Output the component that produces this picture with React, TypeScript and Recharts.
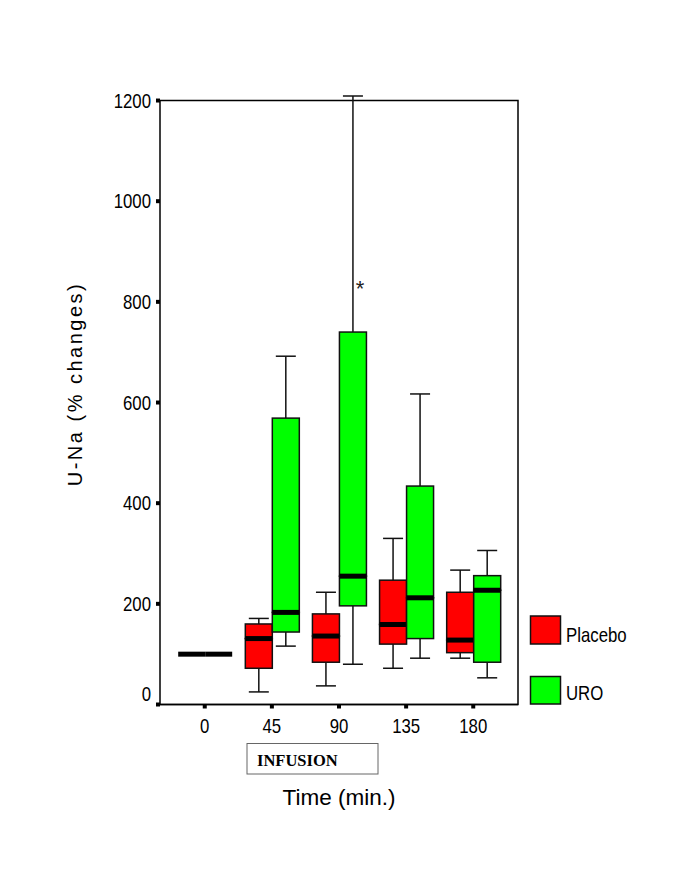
import React from "react";
import {
  ComposedChart,
  Bar,
  XAxis,
  YAxis,
  ReferenceDot,
  ReferenceArea,
  Customized,
} from "recharts";

// time points (min.)
const times = [0, 45, 90, 135, 180];
const xDomain = [-30, 210];
const yTicks = [0, 200, 400, 600, 800, 1000, 1200];

// Placebo box plot values
const placeboLow = [100, 25, 37, 72, 92];
const placeboQ1 = [100, 72, 84, 120, 103];
const placeboMedian = [100, 131, 136, 159, 128];
const placeboQ3 = [100, 160, 180, 247, 223];
const placeboHigh = [100, 171, 223, 330, 267];

// URO box plot values
const uroLow = [100, 116, 80, 92, 53];
const uroQ1 = [100, 144, 196, 131, 84];
const uroMedian = [100, 183, 255, 212, 227];
const uroQ3 = [100, 569, 740, 434, 256];
const uroHigh = [100, 692, 1209, 617, 306];

// significance mark
const starTime = 90;
const starValue = 835;

const data = times.map((t, i) => ({
  time: t,
  pBase: placeboLow[i],
  pLowW: placeboQ1[i] - placeboLow[i],
  pBoxLo: placeboMedian[i] - placeboQ1[i],
  pBoxHi: placeboQ3[i] - placeboMedian[i],
  pHighW: placeboHigh[i] - placeboQ3[i],
  uBase: uroLow[i],
  uLowW: uroQ1[i] - uroLow[i],
  uBoxLo: uroMedian[i] - uroQ1[i],
  uBoxHi: uroQ3[i] - uroMedian[i],
  uHighW: uroHigh[i] - uroQ3[i],
}));

const RED = "#ff0000";
const GREEN = "#00ff00";
const SANS = "'Liberation Sans', Arial, sans-serif";
const SQUEEZE = 0.84; // the figure's labels are set in a narrow face

const Empty = () => null;

const LowWhisker = (props: any) => {
  const { x, y, width, height } = props;
  if (!height || height <= 0.5) return null;
  const cx = x + width / 2;
  return (
    <g stroke="#111" strokeWidth={1.5}>
      <line x1={cx} y1={y} x2={cx} y2={y + height} />
      <line x1={cx - 10} y1={y + height} x2={cx + 10} y2={y + height} />
    </g>
  );
};

const HighWhisker = (props: any) => {
  const { x, y, width, height } = props;
  if (!height || height <= 0.5) return null;
  const cx = x + width / 2;
  return (
    <g stroke="#111" strokeWidth={1.5}>
      <line x1={cx} y1={y} x2={cx} y2={y + height} />
      <line x1={cx - 10} y1={y} x2={cx + 10} y2={y} />
    </g>
  );
};

const makeBox = (fill: string, withMedian: boolean) => (props: any) => {
  const { x, y, width, height } = props;
  return (
    <g>
      {height > 0 && (
        <rect x={x} y={y} width={width} height={height} fill={fill} stroke="#111" strokeWidth={1.5} />
      )}
      {withMedian && (
        <line x1={x} y1={y + height} x2={x + width} y2={y + height} stroke="#000" strokeWidth={5} />
      )}
    </g>
  );
};

const NarrowText = ({ x, y, anchor, size, children }: any) => (
  <text
    transform={`translate(${x},${y}) scale(${SQUEEZE},1)`}
    textAnchor={anchor}
    fontFamily={SANS}
    fontSize={size}
    fill="#000"
  >
    {children}
  </text>
);

const YTick = (props: any) => {
  const { x, y, payload } = props;
  const shift = payload.value === 0 ? -11 : 0;
  return (
    <NarrowText x={x - 3} y={y + shift + 7} anchor="end" size={20}>
      {payload.value}
    </NarrowText>
  );
};

const XTick = (props: any) => {
  const { x, y, payload } = props;
  return (
    <NarrowText x={x} y={y + 22} anchor="middle" size={20}>
      {payload.value}
    </NarrowText>
  );
};

const Extras = () => (
  <g>
    <text
      transform="translate(82,384) rotate(-90)"
      textAnchor="middle"
      fontFamily={SANS}
      fontSize={20}
      letterSpacing={2.5}
      fill="#000"
    >
      U-Na (% changes)
    </text>
    <rect x={247} y={743.5} width={131} height={30.5} fill="#fff" stroke="#666" strokeWidth={1} />
    <text x={257} y={765.5} fontFamily="'Liberation Serif', 'Times New Roman', serif" fontWeight="bold" fontSize={16.5} fill="#000">
      INFUSION
    </text>
    <text x={339} y={805} textAnchor="middle" fontFamily={SANS} fontSize={22.5} fill="#000">
      Time (min.)
    </text>
    <rect x={530.5} y={616} width={30} height={28} fill={RED} stroke="#111" strokeWidth={1.5} />
    <NarrowText x={566} y={641.5} anchor="start" size={20}>
      Placebo
    </NarrowText>
    <rect x={530.5} y={676.5} width={30} height={27.5} fill={GREEN} stroke="#111" strokeWidth={1.5} />
    <NarrowText x={566} y={699.5} anchor="start" size={20}>
      URO
    </NarrowText>
  </g>
);

export default function App() {
  return (
    <div style={{ position: "absolute", left: 0, top: 0, width: 685, height: 886, background: "#fff" }}>
      <ComposedChart
        width={685}
        height={886}
        data={data}
        margin={{ top: 96, right: 167, left: 100, bottom: 151.5 }}
        barGap={0}
      >
        <XAxis
          dataKey="time"
          type="number"
          domain={xDomain}
          ticks={times}
          interval={0}
          axisLine={{ stroke: "#000", strokeWidth: 1.5 }}
          tickLine={{ stroke: "#000", strokeWidth: 4 }}
          tickSize={4}
          tick={<XTick />}
          height={30}
        />
        <YAxis
          domain={[0, (dataMax: number) => Math.max(1200, dataMax)]}
          ticks={yTicks}
          interval={0}
          axisLine={false}
          tickLine={{ stroke: "#000", strokeWidth: 4 }}
          tickSize={4}
          tick={<YTick />}
          width={60}
        />
        {/* plot frame: from 0 to the top tick, full plot width */}
        <ReferenceArea y1={0} y2={1200} fill="none" stroke="#000" strokeWidth={1.5} ifOverflow="visible" />

        <Bar dataKey="pBase" stackId="p" barSize={27} shape={<Empty />} isAnimationActive={false} />
        <Bar dataKey="pLowW" stackId="p" barSize={27} shape={LowWhisker} isAnimationActive={false} />
        <Bar dataKey="pBoxLo" stackId="p" barSize={27} shape={makeBox(RED, false)} isAnimationActive={false} />
        <Bar dataKey="pBoxHi" stackId="p" barSize={27} shape={makeBox(RED, true)} isAnimationActive={false} />
        <Bar dataKey="pHighW" stackId="p" barSize={27} shape={HighWhisker} isAnimationActive={false} />

        <Bar dataKey="uBase" stackId="u" barSize={27} shape={<Empty />} isAnimationActive={false} />
        <Bar dataKey="uLowW" stackId="u" barSize={27} shape={LowWhisker} isAnimationActive={false} />
        <Bar dataKey="uBoxLo" stackId="u" barSize={27} shape={makeBox(GREEN, false)} isAnimationActive={false} />
        <Bar dataKey="uBoxHi" stackId="u" barSize={27} shape={makeBox(GREEN, true)} isAnimationActive={false} />
        <Bar dataKey="uHighW" stackId="u" barSize={27} shape={HighWhisker} isAnimationActive={false} />

        <ReferenceDot
          x={starTime}
          y={starValue}
          r={0}
          shape={(p: any) => (
            <text x={p.cx + 21} y={p.cy + 12} textAnchor="middle" fontFamily={SANS} fontSize={22} fill="#222">
              *
            </text>
          )}
        />
        <Customized component={Extras} />
      </ComposedChart>
    </div>
  );
}
